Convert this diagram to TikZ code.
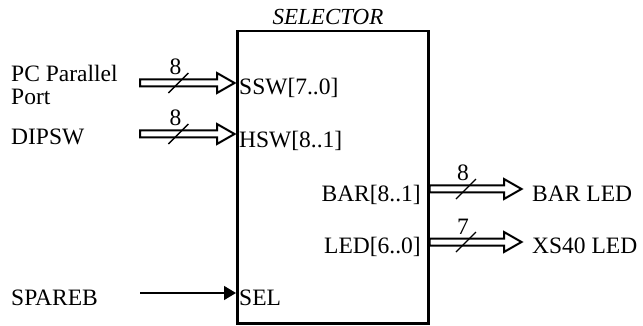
\documentclass[tikz,border=0pt]{standalone}
\usepackage{fontspec}
\setmainfont{Liberation Serif}
\usetikzlibrary{positioning, arrows.meta, calc}
\tikzset{
block/.style={
  draw,
  rectangle,
  line width=2.5pt,
  minimum width=191pt,
  minimum height=292pt,
  inner sep=0pt
  },
txt/.style={inner sep=0pt, font=\fontsize{23.5}{23.5}\selectfont},
bus/.style={draw, line width=2pt, fill=white},
wire/.style={line width=1.3pt, -{Triangle[length=12pt, width=14pt]}},
tick/.style={line width=1.3pt}
}
% bus arrow from #1 to #2 (horizontal)
\newcommand{\busline}[2]{
  \path[bus] let \p1=(#1), \p2=(#2) in
    (\x1,\y1-3.5pt) -- (\x2-19pt,\y1-3.5pt) -- (\x2-19pt,\y1-10pt) -- (\x2-1.5pt,\y1)
    -- (\x2-19pt,\y1+10pt) -- (\x2-19pt,\y1+3.5pt) -- (\x1,\y1+3.5pt) -- cycle;
}
\begin{document}
\begin{tikzpicture}[x=1pt, y=-1pt]
\useasboundingbox (0,0) rectangle (643,326);
\node[block, anchor=north west] (sel) at (236,30) {};
\node[txt, font=\fontsize{23}{23}\selectfont\itshape, anchor=base] (title) at (328,25) {SELECTOR};
% ports
\node[txt, anchor=base west] (ssw) at (239,95) {SSW[7..0]};
\node[txt, anchor=base west] (hsw) at (239,148) {HSW[8..1]};
\node[txt, anchor=base west] (seltxt) at (239,305) {SEL};
\node[txt, anchor=base east] (bar) at (421,201) {BAR[8..1]};
\node[txt, anchor=base east] (led) at (421,253) {LED[6..0]};
% outside
\node[txt, anchor=base west, align=left] (pc) at (11,105) {PC Parallel\\Port};
\node[txt, anchor=base west] (dipsw) at (11,145) {DIPSW};
\node[txt, anchor=base west] (spareb) at (11,305) {SPAREB};
\node[txt, anchor=base west] (barled) at (532,201) {BAR LED};
\node[txt, anchor=base west] (xsled) at (532,253) {XS40 LED};
\coordinate (pcout) at (140,83);
\coordinate (dipout) at (140,134);
\coordinate (spout) at (140,293);
\coordinate (barin) at (523,189);
\coordinate (xsin) at (523,242);
% buses
\busline{pcout}{pcout -| sel.west}
\busline{dipout}{dipout -| sel.west}
\busline{barin -| sel.east}{barin}
\busline{xsin -| sel.east}{xsin}
\draw[wire] (spout) -- (spout -| sel.west);
\path (pcout) -- coordinate[pos=.4] (m1) (pcout -| sel.west);
\path (dipout) -- coordinate[pos=.4] (m2) (dipout -| sel.west);
\path (barin -| sel.east) -- coordinate[pos=.39] (m3) (barin);
\path (xsin -| sel.east) -- coordinate[pos=.39] (m4) (xsin);
\foreach \m/\w/\n in {m1/8/w1, m2/8/w2, m3/8/w3, m4/7/w4} {
  \draw[tick] (\m) +(-10pt,-10pt) -- +(10pt,10pt);
  \node[txt, anchor=base] (\n) at ([xshift=-3pt, yshift=8pt]\m) {\w};
}
\end{tikzpicture}
\end{document}
